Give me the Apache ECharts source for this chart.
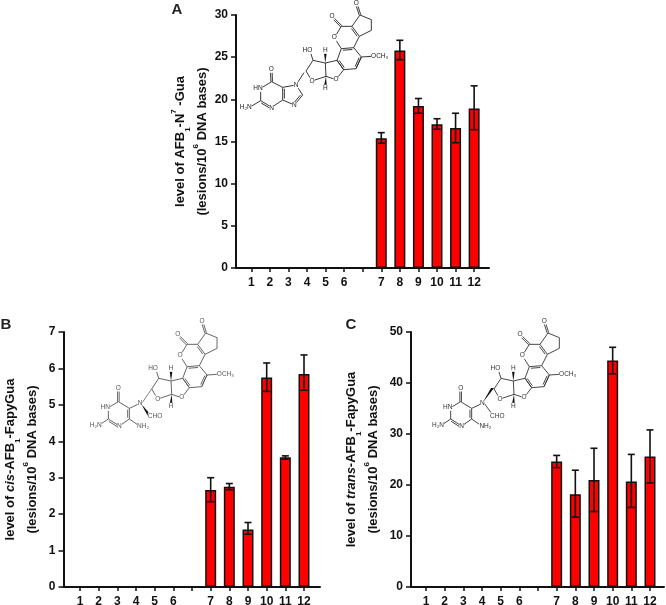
<!DOCTYPE html>
<html><head><meta charset="utf-8">
<style>html,body{margin:0;padding:0;background:#fff}#c{width:666px;height:605px}</style>
<script src="https://cdn.jsdelivr.net/npm/echarts@6/dist/echarts.min.js"></script>
</head><body><div id="c"></div>
<script>
const categories = ['1','2','3','4','5','6','','7','8','9','10','11','12'];
const positions = [8,9,10,11,12,13];

const seriesA = [15.4,25.8,19.2,17.05,16.6,18.9];
const upperA  = [16.05,27.0,20.1,17.7,18.35,21.6];
const lowerA  = [14.8,24.7,18.35,16.45,14.85,16.4];

const seriesB = [2.66,2.75,1.58,5.75,3.56,5.85];
const upperB  = [3.0,2.84,1.77,6.15,3.6,6.37];
const lowerB  = [2.34,2.67,1.45,5.37,3.51,5.4];

const seriesC = [24.6,18.2,21.0,44.4,20.7,25.6];
const upperC  = [25.8,22.9,27.2,47.0,26.0,30.8];
const lowerC  = [23.4,13.7,14.8,41.8,15.6,20.4];

const FONT = '"Liberation Sans", Arial, sans-serif';
const rich = {
  t:{fontFamily:FONT,fontSize:13,fontWeight:'bold',color:'#111',lineHeight:22},
  i:{fontFamily:FONT,fontSize:13,fontWeight:'bold',fontStyle:'italic',color:'#111',lineHeight:22},
  s:{fontFamily:FONT,fontSize:8,fontWeight:'bold',color:'#111',lineHeight:22,verticalAlign:'bottom',padding:[6,0,0,0]},
  u:{fontFamily:FONT,fontSize:8,fontWeight:'bold',color:'#111',lineHeight:22,verticalAlign:'top',padding:[0,0,5,0]}
};
const panels = [
 {left:236,right:489,top:15,bottom:268,min:0.177,max:13.8,ymax:30,step:5,vals:seriesA,up:upperA,lo:lowerA,gap:44.5,
  name:'{t|level of AFB}{s|1}{t|-N}{u|7}{t| -Gua}\n{t|(lesions/10}{u|6}{t| DNA bases)}'},
 {left:63.5,right:320,top:332,bottom:587,min:0.116,max:13.857,ymax:7,step:1,vals:seriesB,up:upperB,lo:lowerB,gap:42,
  name:'{t|level of }{i|cis}{t|-AFB}{s|1}{t|-FapyGua}\n{t|(lesions/10}{u|6}{t| DNA bases)}'},
 {left:411,right:664,top:332,bottom:587,min:0.197,max:13.75,ymax:50,step:10,vals:seriesC,up:upperC,lo:lowerC,gap:48.5,
  name:'{t|level of }{i|trans}{t|-AFB}{s|1}{t|-FapyGua}\n{t|(lesions/10}{u|6}{t| DNA bases)}'}
];

const grid=[],xAxis=[],yAxis=[],series=[];
const ticks = categories.map((c,i)=>i+1);
panels.forEach((p,k)=>{
  grid.push({left:p.left,top:p.top,width:p.right-p.left,height:p.bottom-p.top,containLabel:false,outerBoundsMode:'none'});
  xAxis.push({type:'value',gridIndex:k,min:p.min,max:p.max,splitLine:{show:false},
    axisLine:{lineStyle:{color:'#111',width:2}},
    axisTick:{show:true,customValues:ticks,length:4,lineStyle:{color:'#111',width:1.5}},
    axisLabel:{customValues:ticks,formatter:v=>categories[Math.round(v)-1],margin:8.5,
      fontFamily:FONT,fontSize:12,fontWeight:'bold',color:'#111'}});
  yAxis.push({type:'value',gridIndex:k,min:0,max:p.ymax,interval:p.step,splitLine:{show:false},
    name:p.name,nameLocation:'middle',nameGap:p.gap,nameRotate:90,nameMoveOverlap:false,
    nameTextStyle:{rich:rich,align:'center',verticalAlign:'middle'},
    axisLine:{show:true,lineStyle:{color:'#111',width:2}},
    axisTick:{show:true,length:5,lineStyle:{color:'#111',width:1.5}},
    axisLabel:{margin:8,fontFamily:FONT,fontSize:12,fontWeight:'bold',color:'#111'}});
  series.push({type:'bar',xAxisIndex:k,yAxisIndex:k,barWidth:11,
    data:p.vals.map((v,i)=>[positions[i],v]),
    itemStyle:{color:'#fe0000',borderColor:'#111',borderWidth:1.5}});
  series.push({type:'custom',xAxisIndex:k,yAxisIndex:k,z:5,
    data:p.vals.map((v,i)=>[positions[i],p.lo[i],p.up[i]]),
    encode:{x:0,y:[1,2]},
    renderItem:(params,api)=>{
      const a=api.coord([api.value(0),api.value(1)]),b=api.coord([api.value(0),api.value(2)]);
      const st={stroke:'#111',lineWidth:1.6,fill:null},c=3.5;
      return {type:'group',children:[
        {type:'line',shape:{x1:a[0],y1:a[1],x2:b[0],y2:b[1]},style:st},
        {type:'line',shape:{x1:a[0]-c,y1:a[1],x2:a[0]+c,y2:a[1]},style:st},
        {type:'line',shape:{x1:b[0]-c,y1:b[1],x2:b[0]+c,y2:b[1]},style:st}]};
    }});
});

/* --- decorative chemical structures (crop px = 3x page px) --- */
const core = {
 bonds:[['b','c'],['c','d'],['d','e'],['f','b'],['f','g'],['g','O2'],['O2','h'],['j','e'],
        ['j','k'],['l','k'],['m','l'],['m','n'],['n','h'],['k','ome'],['m','O3'],['O3','p'],['p','q'],['q','n'],
        ['q','r'],['r','s'],['s','O4'],['O4','p'],['r','ho']],
 doubles:[['e','f',-1],['h','j',1],['k','l',1],['m','n',1],['b','oa',0],['g','ob',0]],
 wedges:[['q','hq'],['p','hp']],
 atoms:{oa:[373,20],b:[384,54],c:[418,68],d:[418,100],e:[382,118],f:[360,88],g:[328,88],ob:[300,60],O2:[307,122],
   h:[328,155],j:[365,152],k:[388,180],l:[372,215],m:[335,218],n:[315,190],ome:[418,178],O3:[312,248],p:[282,238],
   q:[280,198],r:[243,190],s:[222,222],O4:[240,252],ho:[236,168],hq:[280,168],hp:[280,268]},
 labels:[['O',373,18],['O',300,58],['O',307,122],['O',312,248],['O',240,252],['OCH\u2083',443,177],['HO',226,160],['H',280,160],['H',280,274]]
};
const fapy = {
 bonds:[['N','C5'],['C5','C4'],['C4','N3'],['N3','C2'],['N1','C6'],['C2','na'],['C6','nb']],
 doubles:[['C5','C6',1],['C2','N1',1],['C4','oc',0]],
 atoms:{N:[187,265],C5:[155,280],C4:[122,260],N3:[92,278],C2:[92,312],N1:[125,333],C6:[155,312],oc:[122,225],na:[68,328],nb:[178,328]},
 labels:[['N',187,265],['HN',83,277],['N',125,335],['O',122,219],['H\u2082N',54,332],['NH\u2082',196,334],['CHO',232,303]]
};
const gua = {
 bonds:[['s','N7'],['N7','C5'],['C5','C6'],['C6','N1'],['N1','C2'],['N3','C4'],['C2','na'],['N7','C8'],['N9','C4']],
 doubles:[['C5','C4',-1],['C2','N3',1],['C8','N9',1],['C6','oc',0]],
 atoms:{s:[222,218],N7:[198,255],C5:[158,262],C4:[158,300],N3:[125,322],C2:[92,302],N1:[92,265],C6:[125,245],
        oc:[124,214],C8:[218,285],N9:[193,315],na:[62,320]},
 labels:[['N',198,255],['N',193,317],['N',125,324],['HN',84,265],['O',124,208],['H\u2082N',47,322]]
};
function draw(m,ox,oy,color,out,lw){
  const P=n=>{const a=m.atoms[n];return [ox+a[0]/3,oy+a[1]/3];};
  const ln=(a,b)=>out.push({type:'line',silent:true,shape:{x1:a[0],y1:a[1],x2:b[0],y2:b[1]},style:{stroke:color,lineWidth:lw}});
  (m.bonds||[]).forEach(b=>ln(P(b[0]),P(b[1])));
  (m.doubles||[]).forEach(d=>{
    const a=P(d[0]),b=P(d[1]);const dx=b[0]-a[0],dy=b[1]-a[1],L=Math.hypot(dx,dy);const nx=-dy/L,ny=dx/L;
    if(d[2]===0){ln([a[0]+nx*.8,a[1]+ny*.8],[b[0]+nx*.8,b[1]+ny*.8]);ln([a[0]-nx*.8,a[1]-ny*.8],[b[0]-nx*.8,b[1]-ny*.8]);}
    else{ln(a,b);const o=1.7*d[2];ln([a[0]+nx*o+dx*.12,a[1]+ny*o+dy*.12],[b[0]+nx*o-dx*.12,b[1]+ny*o-dy*.12]);}
  });
  (m.wedges||[]).forEach(w=>{
    const a=P(w[0]),b=P(w[1]);
    out.push({type:'polygon',silent:true,shape:{points:[a,[b[0]-1.4,b[1]],[b[0]+1.4,b[1]]]},style:{fill:'#111'}});
  });
  (m.labels||[]).forEach(l=>{
    out.push({type:'text',silent:true,z:3,x:ox+l[1]/3,y:oy+l[2]/3,
      style:{text:l[0],fontFamily:FONT,fontSize:6.5,fill:color,align:'center',verticalAlign:'middle',
             backgroundColor:'#fff',padding:0}});
  });
}
const gfx=[];
// panel A
draw(core,232,-3,'#222',gfx,0.9);
draw(gua,230,0,'#222',gfx,0.9);
// panel B
draw(core,77.7,315,'#555',gfx,0.9);
draw(fapy,77.7,315,'#555',gfx,0.9);
gfx.push({type:'polygon',silent:true,shape:{points:[[141,403.5],[150,414],[147.5,415.5]]},style:{fill:'#111'}});
gfx.push({type:'line',silent:true,shape:{x1:142,y1:403,x2:151.5,y2:389},style:{stroke:'#777',lineWidth:0.9}});
// panel C
draw(core,420,315,'#333',gfx,0.9);
draw(fapy,420,315,'#333',gfx,0.9);
gfx.push({type:'line',silent:true,shape:{x1:484,y1:403,x2:492,y2:414},style:{stroke:'#333',lineWidth:0.9}});
gfx.push({type:'polygon',silent:true,shape:{points:[[494,388],[491,388],[482.5,403]]},style:{fill:'#111'}});
// panel letters
[['A',177,10],['B',6,325],['C',351,325]].forEach(l=>gfx.push({type:'text',silent:true,x:l[1],y:l[2],
  style:{text:l[0],fontFamily:FONT,fontSize:15,fontWeight:'bold',fill:'#222',align:'center',verticalAlign:'middle'}}));

const chart=echarts.init(document.getElementById('c'),null,{renderer:'canvas'});
chart.setOption({animation:false,backgroundColor:'#fff',grid,xAxis,yAxis,series,graphic:{elements:gfx}});
</script></body></html>
